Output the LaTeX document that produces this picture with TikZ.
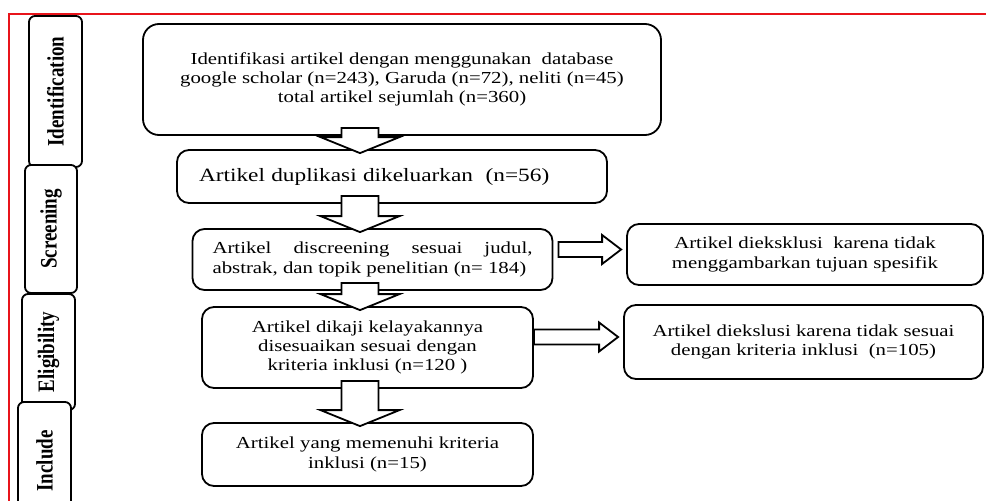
\documentclass[tikz,border=0pt]{standalone}
\usepackage{fontspec}
\usepackage{graphicx}
\setmainfont{Liberation Serif}[FakeStretch=1.24]
\newfontfamily\tabfont{Liberation Serif}
\usetikzlibrary{calc}
\definecolor{FrameRed}{HTML}{E8141B}

% block arrow going down, from one box to the next
\newcommand{\flowdown}[2]{%
  \draw[flowarrow] let \p1=(flowx |- #1.south), \p2=(flowx |- #2.north) in
    (\x1-18.5pt,\y1+8pt) -- (\x1+18.5pt,\y1+8pt) -- (\x1+18.5pt,\y2+12pt)
    -- (\x1+39.5pt,\y2+12pt) -- (\x1,\y2-4pt) -- (\x1-39.5pt,\y2+12pt)
    -- (\x1-18.5pt,\y2+12pt) -- cycle;}
% block arrow going right, #3 = gap at the start
\newcommand{\flowright}[3]{%
  \draw[flowarrow] let \p1=(#1.east), \p2=(#2.west), \p3=(#2.center) in
    (\x1+#3,\y3+12.5pt) -- (\x2-24pt,\y3+12.5pt) -- (\x2-24pt,\y3+19.5pt)
    -- (\x2-5pt,\y3+5pt) -- (\x2-24pt,\y3-9.5pt) -- (\x2-24pt,\y3-2.5pt)
    -- (\x1+#3,\y3-2.5pt) -- cycle;}

\begin{document}
\begin{tikzpicture}[x=1pt,y=-1pt,
    mainbox/.style={draw,line width=1.8,rounded corners=12,fill=white,inner sep=0,
      align=center,font=\fontsize{16.8}{19.3}\selectfont},
    tabbox/.style={draw,line width=1.8,rounded corners=6,fill=white,rotate=90,inner sep=0,
      font=\tabfont\fontsize{19}{22}\selectfont\bfseries},
    flowarrow/.style={draw,line width=1.8,fill=white,line join=miter}]
    \useasboundingbox (0,0) rectangle (986,501);
    \clip (0,0) rectangle (986,501);
    \draw[FrameRed,line width=2] (9,510) -- (9,14) -- (990,14);

    % stage tabs on the left
    \node[tabbox,minimum width=151,minimum height=53] (tabid)   at (55.5,91.5) {\scalebox{1}[1.24]{Identification}};
    \node[tabbox,minimum width=128,minimum height=52] (tabscr)  at (51,229)    {\scalebox{1}[1.24]{Screening}};
    \node[tabbox,minimum width=116,minimum height=53] (tabelig) at (48.5,352)  {\scalebox{1}[1.24]{Eligibility}};
    \node[tabbox,minimum width=118,minimum height=53] (tabinc)  at (44.5,461)  {\scalebox{1}[1.24]{Include}};

    % flow boxes
    \coordinate (flowx) at (360,0);
    \node[mainbox,rounded corners=16,minimum width=518,minimum height=111] (bident) at (402,79.5)
      {Identifikasi artikel dengan menggunakan\ \ database\\google scholar (n=243), Garuda (n=72), neliti (n=45)\\total artikel sejumlah (n=360)};
    \node[mainbox,text width=386,inner xsep=22,minimum height=53,align=left,
      font=\fontsize{18.8}{22}\selectfont] (bdup) at (392,176.5)
      {Artikel duplikasi dikeluarkan\ \ (n=56)};
    \node[mainbox,text width=320,inner xsep=20,minimum height=61,align=justify] (bscr) at (372.5,259.5)
      {Artikel discreening sesuai judul,\linebreak abstrak, dan topik penelitian (n=~184)};
    \node[mainbox,minimum width=331,minimum height=81] (belig) at (367.5,347.5)
      {Artikel dikaji kelayakannya\\disesuaikan sesuai dengan\\kriteria inklusi (n=120 )};
    \node[mainbox,minimum width=331,minimum height=63] (binc) at (367.5,454.5)
      {Artikel yang memenuhi kriteria\\inklusi (n=15)};
    \node[mainbox,minimum width=356,minimum height=61] (bexa) at (805,254.5)
      {Artikel dieksklusi\ \ karena tidak\\menggambarkan tujuan spesifik};
    \node[mainbox,minimum width=359,minimum height=74] (bexb) at (803.5,342)
      {Artikel diekslusi karena tidak sesuai\\dengan kriteria inklusi\ \ (n=105)};

    \flowdown{bident}{bdup}
    \flowdown{bdup}{bscr}
    \flowdown{bscr}{belig}
    \flowdown{belig}{binc}
    \flowright{bscr}{bexa}{5pt}
    \flowright{belig}{bexb}{0pt}
\end{tikzpicture}
\end{document}
